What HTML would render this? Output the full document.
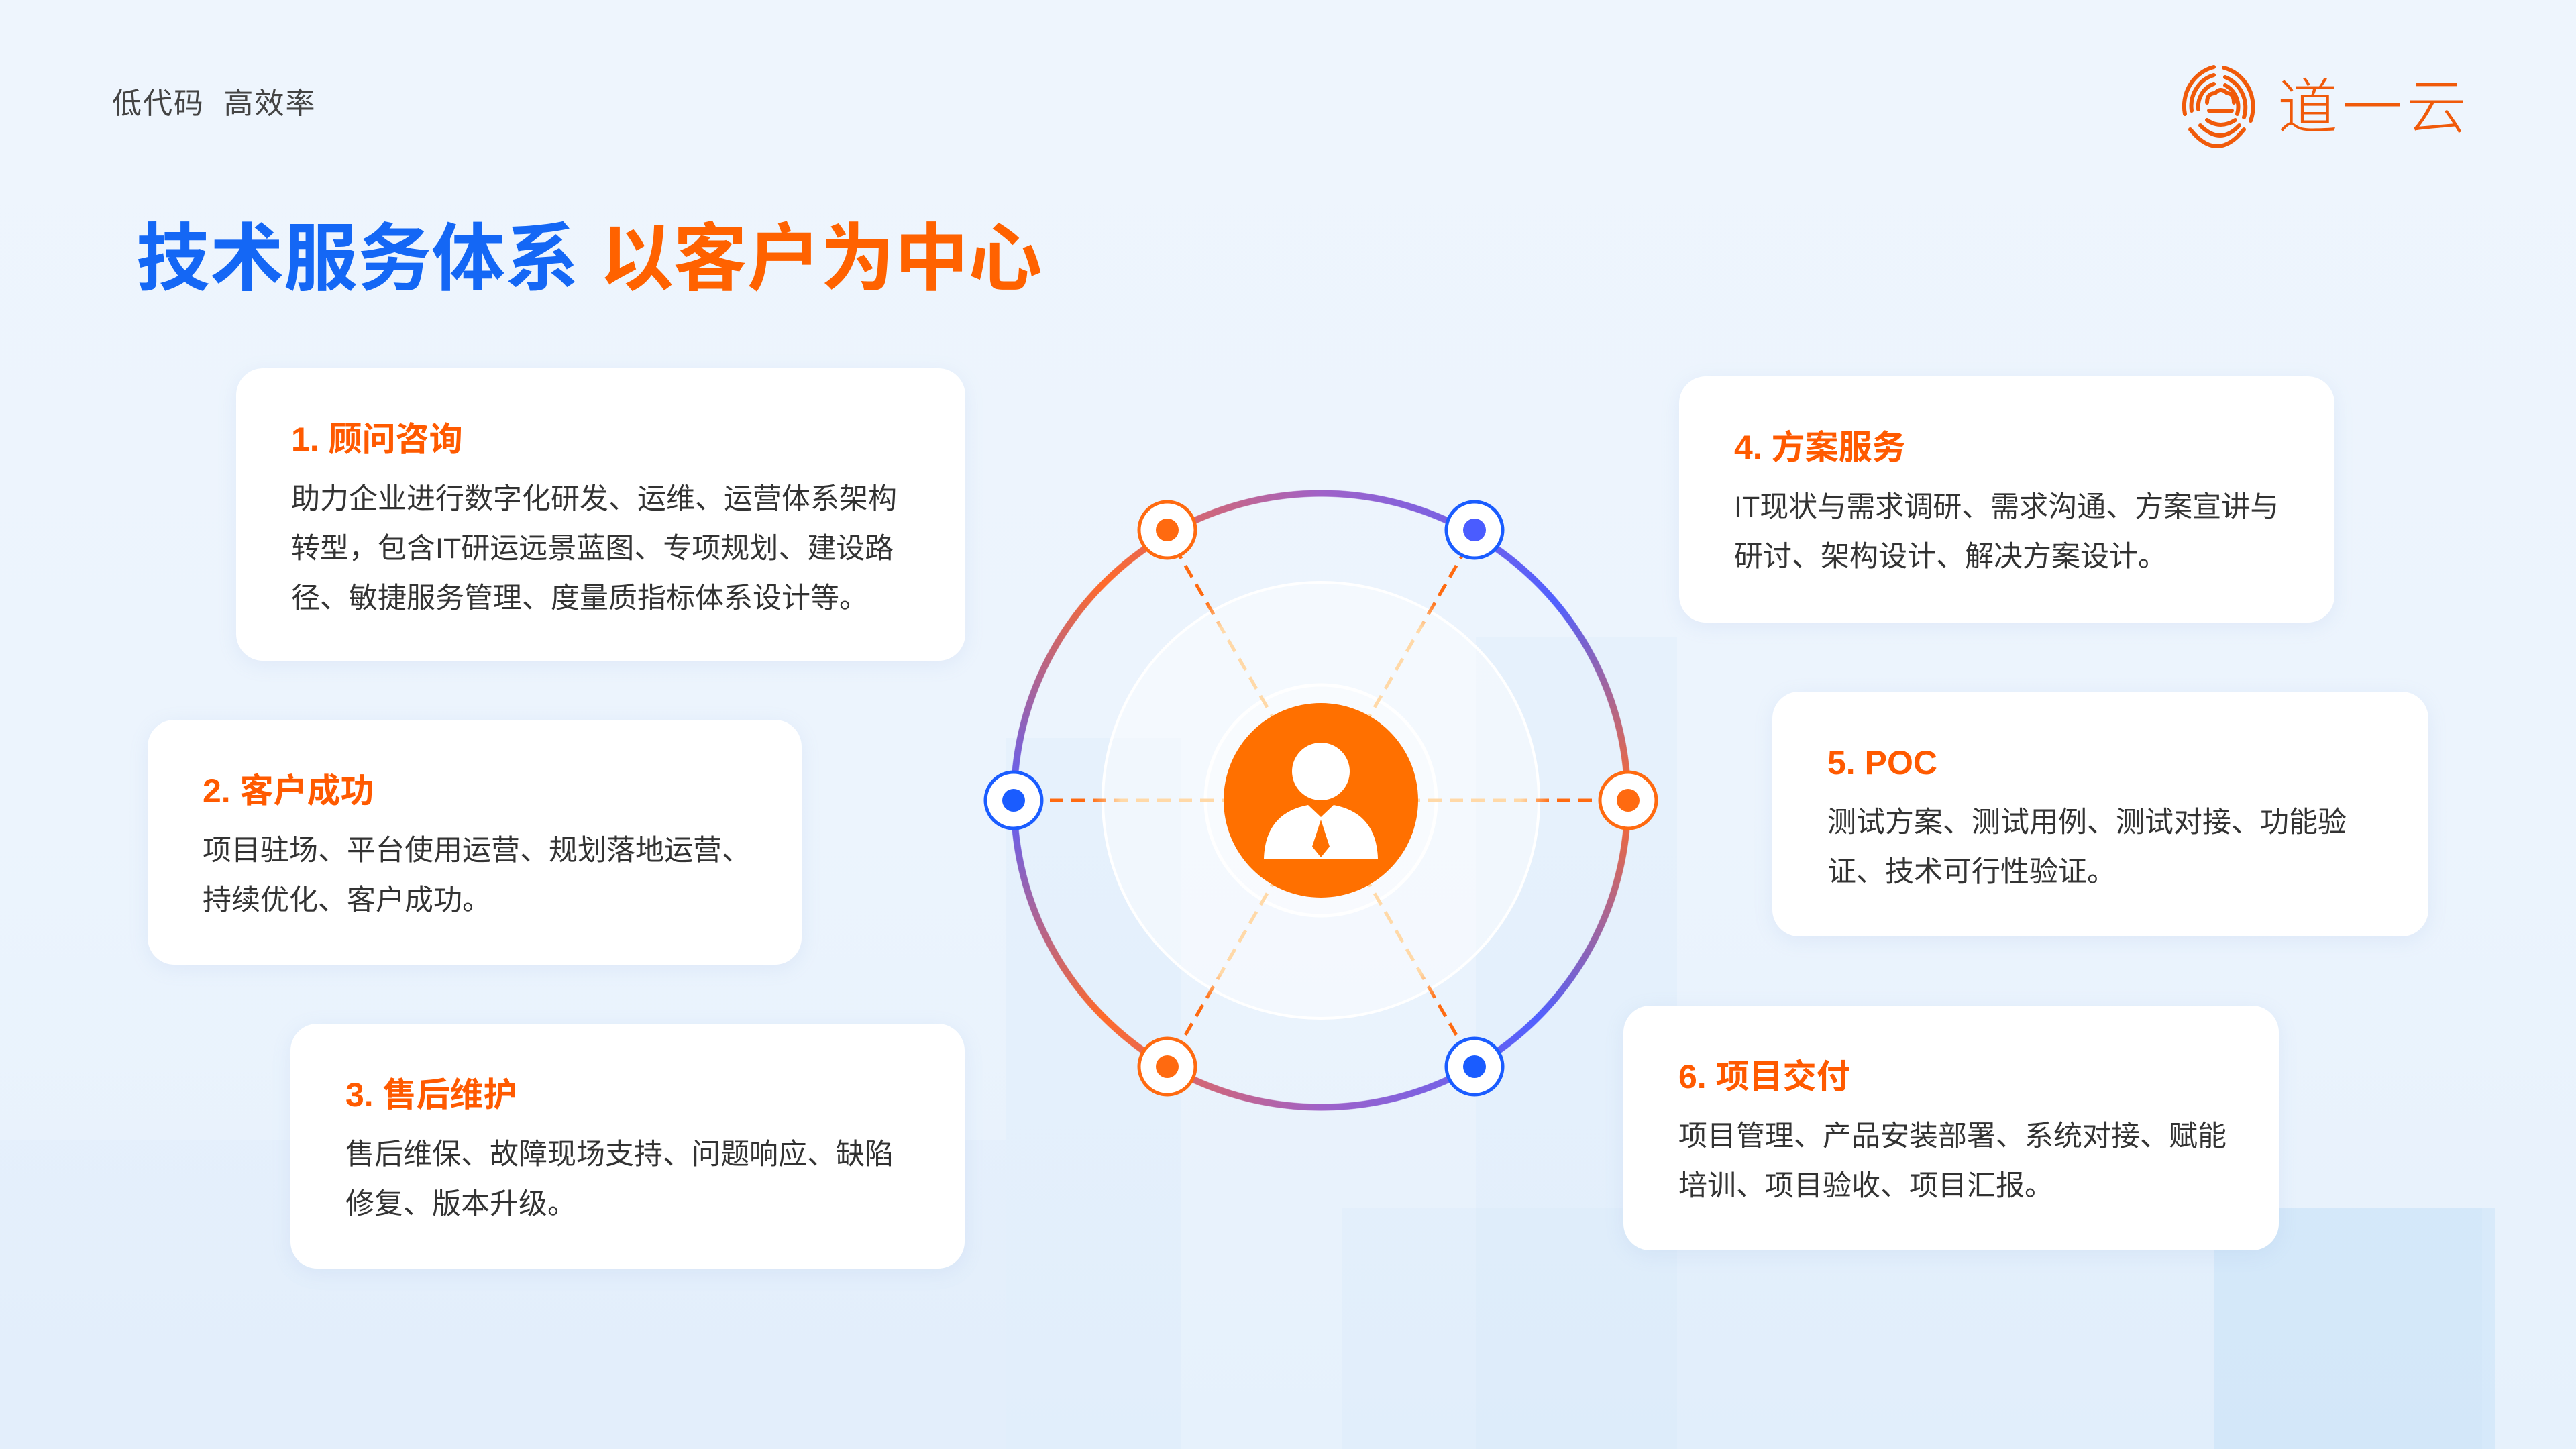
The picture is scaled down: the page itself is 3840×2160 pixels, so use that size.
<!DOCTYPE html>
<html><head><meta charset="utf-8"><style>
*{margin:0;padding:0;box-sizing:border-box}
body{width:3840px;height:2160px;overflow:hidden;position:relative;font-family:"Liberation Sans","Noto Sans CJK SC",sans-serif;background:linear-gradient(180deg,#eef5fd 0%,#ecf4fd 55%,#e6f1fc 100%)}
.bg{position:absolute;background:rgba(205,228,250,0.18)}
.card{position:absolute;background:#fff;border-radius:40px;box-shadow:0 6px 30px rgba(120,160,210,0.12)}
.card h3{position:absolute;left:82px;top:76px;font-size:50px;line-height:60px;color:#ff5a00;font-weight:bold;white-space:nowrap}
.card p{position:absolute;left:82px;top:158px;font-size:43px;line-height:74px;color:#333;white-space:nowrap}
</style></head><body>
<div class="bg" style="left:1500px;top:1100px;width:260px;height:1060px"></div>
<div class="bg" style="left:2200px;top:950px;width:300px;height:1210px"></div>
<div class="bg" style="left:2000px;top:1800px;width:1700px;height:360px"></div>
<div class="bg" style="left:3300px;top:1800px;width:420px;height:360px;background:rgba(180,215,245,0.3)"></div>
<div class="bg" style="left:0;top:1700px;width:1500px;height:460px;background:rgba(215,232,250,0.2)"></div>

<div style="position:absolute;left:167px;top:130px;font-size:44px;line-height:50px;color:#444;white-space:nowrap;letter-spacing:2px">低代码&nbsp;&nbsp;高效率</div>
<div style="position:absolute;left:203px;top:322px;font-size:110px;line-height:130px;font-weight:bold;white-space:nowrap"><span style="color:#1467f5">技术服务体系</span> <span style="color:#ff6200">以客户为中心</span></div>

<svg style="position:absolute;left:3245px;top:95px" width="130" height="130" viewBox="0 0 130 130" fill="none" stroke="#f05a0a" stroke-width="6" stroke-linecap="round">
<path d="M55 5 A58 60 0 0 0 12 75"/><path d="M70 6 A58 60 0 0 1 110 85"/>
<path d="M55 17 A46 48 0 0 0 22 70"/><path d="M72 20 A46 48 0 0 1 100 80"/>
<path d="M55 30 A34 36 0 0 0 32 68"/><path d="M72 32 A34 36 0 0 1 90 75"/>
<path d="M45 58 q0-14 12-14 q8-10 18 0 q10 0 10 14"/><path d="M48 70 h34"/>
<path d="M45 84 q20 14 42 0"/><path d="M35 92 q30 30 58 0"/><path d="M20 98 q40 50 80 0"/>
</svg>
<div style="position:absolute;left:3395px;top:106px;font-size:90px;line-height:110px;color:#f05a0a;font-weight:300;white-space:nowrap;letter-spacing:6px">道一云</div>

<div class="card" style="left:352px;top:549px;width:1087px;height:436px"><h3>1. 顾问咨询</h3><p>助力企业进行数字化研发、运维、运营体系架构<br>转型，包含IT研运远景蓝图、专项规划、建设路<br>径、敏捷服务管理、度量质指标体系设计等。</p></div>
<div class="card" style="left:220px;top:1073px;width:975px;height:365px"><h3>2. 客户成功</h3><p>项目驻场、平台使用运营、规划落地运营、<br>持续优化、客户成功。</p></div>
<div class="card" style="left:433px;top:1526px;width:1005px;height:365px"><h3>3. 售后维护</h3><p>售后维保、故障现场支持、问题响应、缺陷<br>修复、版本升级。</p></div>
<div class="card" style="left:2503px;top:561px;width:977px;height:367px"><h3>4. 方案服务</h3><p>IT现状与需求调研、需求沟通、方案宣讲与<br>研讨、架构设计、解决方案设计。</p></div>
<div class="card" style="left:2642px;top:1031px;width:978px;height:365px"><h3>5. POC</h3><p>测试方案、测试用例、测试对接、功能验<br>证、技术可行性验证。</p></div>
<div class="card" style="left:2420px;top:1499px;width:977px;height:365px"><h3>6. 项目交付</h3><p>项目管理、产品安装部署、系统对接、赋能<br>培训、项目验收、项目汇报。</p></div>

<div style="position:absolute;left:1506px;top:730px;width:926px;height:926px;border-radius:50%;background:conic-gradient(from 0deg,#a062c8 0deg,#5060ff 50deg,#ff6a2a 90deg,#5060ff 135deg,#a062c8 180deg,#ff6a2a 225deg,#5a5eff 270deg,#ff6a2a 315deg,#a062c8 360deg);-webkit-mask:radial-gradient(circle,transparent 452px,#000 453px,#000 462px,transparent 463px);mask:radial-gradient(circle,transparent 452px,#000 453px,#000 462px,transparent 463px)"></div>

<svg style="position:absolute;left:0;top:0" width="3840" height="2160">
<defs>
<linearGradient id="dl" gradientUnits="userSpaceOnUse" x1="1969" y1="1193" x2="1511" y2="1193"><stop offset="0.3" stop-color="#ffd9a8"/><stop offset="0.65" stop-color="#ffd9a8"/><stop offset="0.75" stop-color="#ff6a10"/></linearGradient>
</defs>
<circle cx="1969" cy="1193" r="325" fill="rgba(255,255,255,0.45)" stroke="#fff" stroke-width="4"/>
<circle cx="1969" cy="1193" r="172" fill="rgba(255,255,255,0.35)" stroke="#fff" stroke-width="5"/>
<g stroke-width="5" stroke-dasharray="20 12" fill="none">
<line x1="1969" y1="1193" x2="1511" y2="1193" stroke="url(#dl)"/>
<line x1="1969" y1="1193" x2="1511" y2="1193" stroke="url(#dl)" transform="rotate(180 1969 1193)"/>
<line x1="1969" y1="1193" x2="1511" y2="1193" stroke="url(#dl)" transform="rotate(60 1969 1193)"/>
<line x1="1969" y1="1193" x2="1511" y2="1193" stroke="url(#dl)" transform="rotate(120 1969 1193)"/>
<line x1="1969" y1="1193" x2="1511" y2="1193" stroke="url(#dl)" transform="rotate(-60 1969 1193)"/>
<line x1="1969" y1="1193" x2="1511" y2="1193" stroke="url(#dl)" transform="rotate(-120 1969 1193)"/>
</g>
<circle cx="1969" cy="1193" r="145" fill="#ff7000"/>
<circle cx="1969" cy="1150" r="43" fill="#fff"/>
<path d="M1884 1280 Q1886 1212 1950 1200 L1969 1218 L1988 1200 Q2052 1212 2054 1280 Z" fill="#fff"/>
<path d="M1969 1222 L1982 1262 L1969 1278 L1956 1262 Z" fill="#ff7000"/>
<g stroke-width="5" fill="#fff">
<circle cx="1511" cy="1193" r="42" stroke="#1a5cff"/><circle cx="1511" cy="1193" r="17" fill="#1a5cff" stroke="none"/>
<circle cx="2427" cy="1193" r="42" stroke="#ff6a10"/><circle cx="2427" cy="1193" r="17" fill="#ff6a10" stroke="none"/>
<circle cx="1740" cy="790" r="42" stroke="#ff6a10"/><circle cx="1740" cy="790" r="17" fill="#ff6a10" stroke="none"/>
<circle cx="2198" cy="790" r="42" stroke="#1a5cff"/><circle cx="2198" cy="790" r="17" fill="#4a5cff" stroke="none"/>
<circle cx="1740" cy="1590" r="42" stroke="#ff6a10"/><circle cx="1740" cy="1590" r="17" fill="#ff6a10" stroke="none"/>
<circle cx="2198" cy="1590" r="42" stroke="#1a5cff"/><circle cx="2198" cy="1590" r="17" fill="#1a5cff" stroke="none"/>
</g>
</svg>
</body></html>
